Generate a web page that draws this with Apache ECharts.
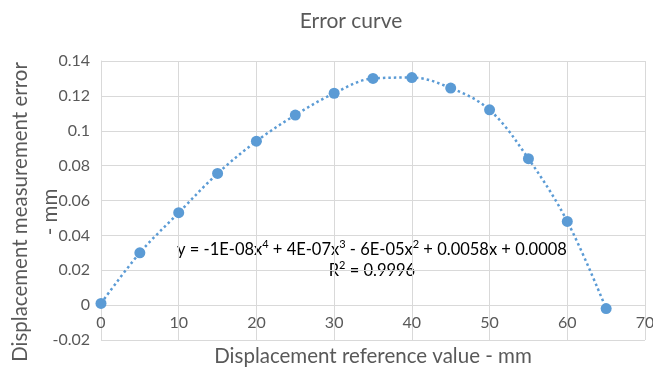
<!DOCTYPE html>
<html>
<head>
<meta charset="utf-8">
<script src="https://cdn.jsdelivr.net/npm/echarts@6/dist/echarts.min.js"></script>
<style>
  html, body { margin: 0; padding: 0; background: #fff; }
  #chart { width: 653px; height: 374px; }
</style>
</head>
<body>
<div id="chart"></div>
<script>
const displacement = [0, 5, 10, 15, 20, 25, 30, 35, 40, 45, 50, 55, 60, 65];
const errorValues = [0.001, 0.030, 0.053, 0.0755, 0.094, 0.109, 0.1215, 0.130, 0.1305, 0.1245, 0.112, 0.084, 0.048, -0.002];
const equationLine = '{t|y = -1E-08x}{s|4}{t| + 4E-07x}{s|3}{t| - 6E-05x}{s|2}{t| + 0.0058x + 0.0008}';
const rSquaredLine = '{t|R}{s|2}{t| = 0.9996}';

const textColor = '#595959';
const gridColor = '#d9d9d9';
const blue = '#5b9bd5';
const font = 'Lato, "Liberation Sans", sans-serif';

const chart = echarts.init(document.getElementById('chart'));

const option = {
  animation: false,
  textStyle: { fontFamily: font },
  title: {
    text: 'Error curve',
    left: 346,
    top: 6,
    textAlign: 'center',
    textStyle: { fontSize: 21, fontWeight: 'normal', color: textColor, fontFamily: font }
  },
  grid: { left: 101, right: 8, top: 61, bottom: 34, containLabel: false, outerBoundsMode: 'none' },
  xAxis: {
    type: 'value',
    min: 0,
    max: 70,
    interval: 10,
    offset: -35,
    axisLine: { onZero: false, lineStyle: { color: gridColor } },
    axisTick: { show: false },
    axisLabel: { fontSize: 16, color: textColor, margin: 10 },
    splitLine: { show: true, lineStyle: { color: gridColor } }
  },
  yAxis: {
    type: 'value',
    min: -0.02,
    max: 0.14,
    interval: 0.02,
    axisLine: { show: true, lineStyle: { color: gridColor } },
    axisTick: { show: false },
    axisLabel: {
      fontSize: 16,
      color: textColor,
      margin: 11,
      formatter: v => String(Math.round(v * 100) / 100)
    },
    splitLine: { show: true, lineStyle: { color: gridColor } }
  },
  series: [{
    type: 'line',
    data: displacement.map((x, i) => [x, errorValues[i]]),
    smooth: 0.35,
    symbol: 'circle',
    symbolSize: 11,
    itemStyle: { color: blue },
    lineStyle: { color: blue, width: 2.5, type: [2.5, 3] }
  }],
  graphic: [{
    type: 'text',
    x: 35,
    y: 212,
    rotation: Math.PI / 2,
    style: {
      text: 'Displacement measurement error\n- mm',
      align: 'center',
      verticalAlign: 'middle',
      fontSize: 20.5,
      lineHeight: 30,
      fill: textColor,
      fontFamily: font
    }
  }, {
    type: 'text',
    x: 373,
    y: 356,
    style: {
      text: 'Displacement reference value - mm',
      align: 'center',
      verticalAlign: 'middle',
      fontSize: 20.5,
      fill: textColor,
      fontFamily: font
    }
  }, {
    type: 'text',
    left: 177,
    top: 239,
    style: {
      text: equationLine + '\n' + rSquaredLine,
      align: 'center',
      rich: {
        t: { fontSize: 16.5, color: textColor, fontFamily: font, lineHeight: 21, align: 'center' },
        s: { fontSize: 11, color: textColor, fontFamily: font, lineHeight: 10, verticalAlign: 'top' }
      }
    }
  }]
};

chart.setOption(option);
</script>
</body>
</html>
